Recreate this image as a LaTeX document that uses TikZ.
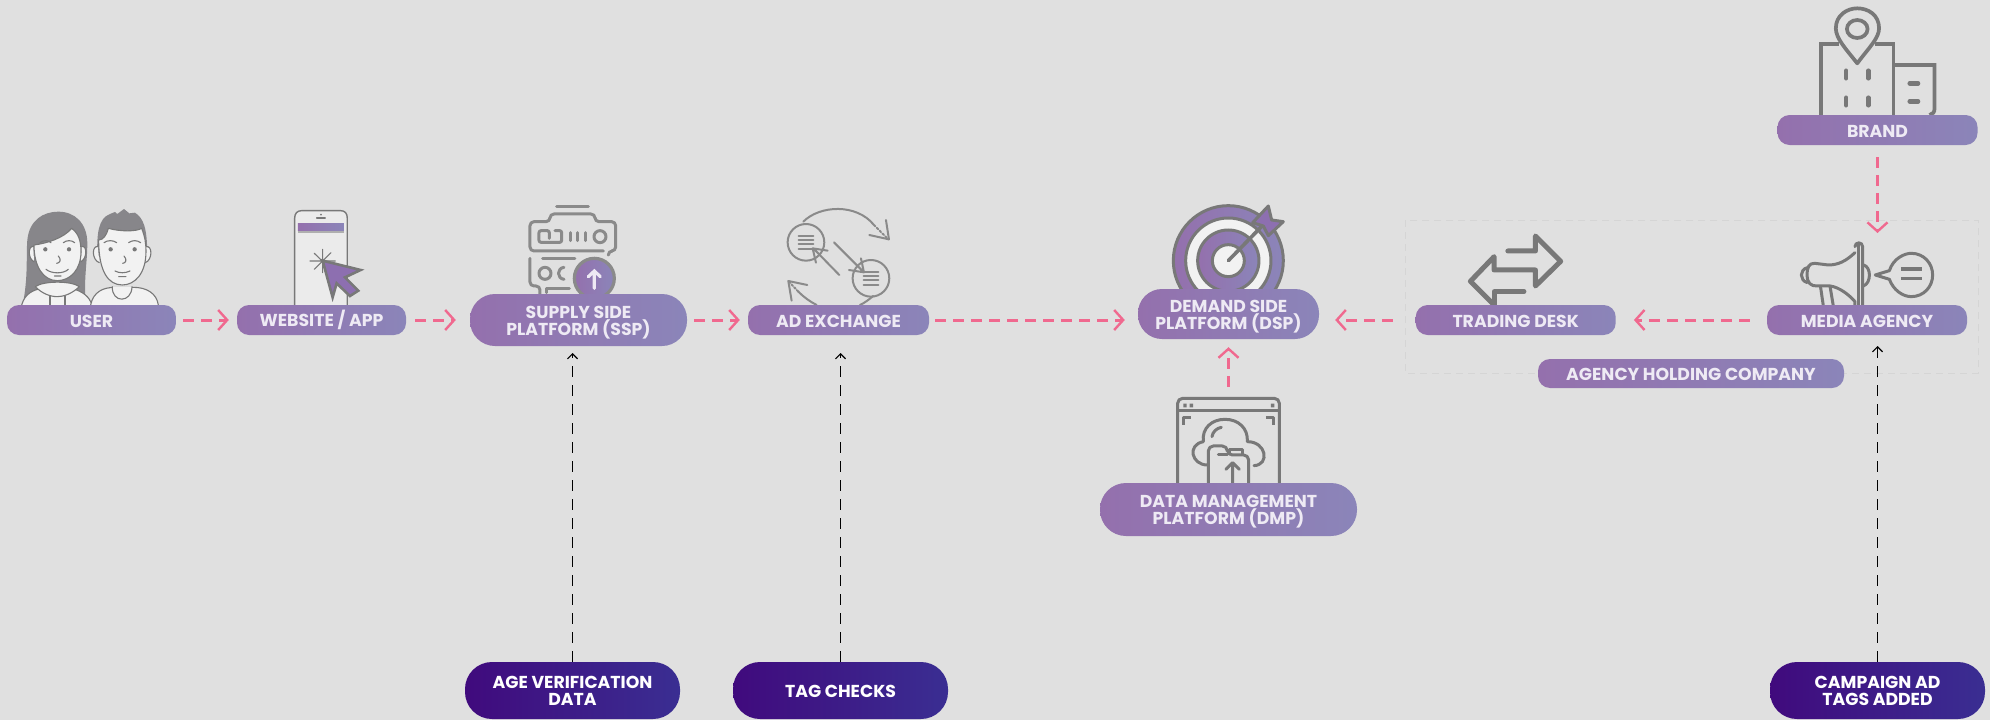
\documentclass[tikz,border=0pt]{standalone}
\usepackage{fontspec}
\setmainfont{Poppins}
\usetikzlibrary{arrows.meta}
\definecolor{bgc}{HTML}{E0E0E0}
\definecolor{pa}{HTML}{9470AD}
\definecolor{pb}{HTML}{8B85B9}
\definecolor{da}{HTML}{400A7D}
\definecolor{db}{HTML}{3A2E92}
\definecolor{pinkc}{HTML}{F0698F}
\definecolor{txtc}{HTML}{EEEAF4}
\definecolor{icong}{HTML}{787878}
\definecolor{lightg}{HTML}{8A8A8A}
\definecolor{hairc}{HTML}{87868A}
\definecolor{skin}{HTML}{F2F2F2}
\definecolor{purp}{HTML}{8D6FB0}
\newcommand\lft[1]{\rule{0pt}{#1pt}}
\tikzset{
 pillbase/.style={draw=none,rounded corners=#1,inner sep=0pt,align=center,font=\fontsize{17.3}{17}\selectfont\bfseries},
 pill/.style={pillbase=#1,left color=pa,right color=pb,text=txtc},
 darkpill/.style={pillbase=27pt,left color=da,right color=db,text=white,minimum width=215pt,minimum height=57pt},
 pinkarrow/.style={draw=pinkc,line width=3pt,dash pattern=on 11pt off 7pt,-{Straight Barb[length=9pt,width=20pt,line width=2.4pt]}},
 blackarrow/.style={draw=black,line width=1.6pt,dash pattern=on 11pt off 8pt,-{Straight Barb[length=5pt,width=10pt,line width=1.2pt]}},
 zoomA/.style={x=0.3333pt,y=-0.3333pt},
 zoomB/.style={x=0.38267pt,y=-0.3333pt},
 gl/.style={draw=icong,line width=3pt,line cap=round,line join=round},
 ll/.style={draw=lightg,line width=2.6pt,line cap=round,line join=round},
 thinl/.style={draw=icong,line width=1.1pt,line cap=round,line join=round},
}
\begin{document}
\begin{tikzpicture}[x=1pt,y=-1pt]
\path[fill=bgc] (0,0) rectangle (1990,720);
\useasboundingbox (0,0) rectangle (1990,720);
% agency box
\draw[draw=black!5!bgc,line width=1pt,dash pattern=on 7pt off 5pt] (1405,220) rectangle (1978,373);
%%% user icon
\begin{scope}[shift={(0,190)},zoomA]
 \fill[hairc] (68,345) .. controls (85,260) and (78,200) .. (82,150) .. controls (88,90) and (130,65) .. (175,65) .. controls (225,65) and (262,100) .. (262,160) .. controls (262,220) and (250,270) .. (258,345) -- cycle;
 \draw[thinl,fill=skin] (65,345) .. controls (75,310) and (100,300) .. (125,295) -- (215,295) .. controls (250,305) and (268,320) .. (276,345);
 \draw[thinl,fill=skin] (106,290) .. controls (130,272) and (215,272) .. (238,290) .. controls (215,312) and (190,320) .. (172,320) .. controls (150,320) and (125,310) .. (106,290) -- cycle;
 \draw[thinl] (150,318) -- (150,345) (195,318) -- (195,345);
 \draw[thinl,fill=skin] (100,170) .. controls (85,165) and (82,205) .. (102,215) (245,170) .. controls (262,165) and (262,205) .. (243,215);
 \draw[thinl,fill=skin] (102,165) .. controls (140,160) and (190,145) .. (215,115) .. controls (235,130) and (243,150) .. (243,185) .. controls (243,240) and (210,272) .. (172,272) .. controls (130,272) and (102,230) .. (102,165) -- cycle;
 \fill[icong] (136,178) circle (6.5) (207,178) circle (6.5);
 \draw[thinl] (120,158) .. controls (130,150) and (145,150) .. (153,158) (190,158) .. controls (200,150) and (215,150) .. (224,158) (175,198) .. controls (185,208) and (180,220) .. (170,220) (138,238) .. controls (155,252) and (190,252) .. (205,238) (163,258) -- (183,258);
 \fill[hairc] (292,200) .. controls (290,130) and (295,85) .. (330,72) -- (345,66) -- (352,72) -- (372,57) -- (388,70) -- (405,68) .. controls (430,85) and (442,110) .. (442,200) -- cycle;
 \draw[thinl,fill=skin] (272,345) .. controls (280,305) and (310,292) .. (345,292) -- (400,292) .. controls (440,292) and (470,310) .. (475,345);
 \draw[thinl,fill=skin] (337,290) .. controls (335,340) and (395,340) .. (396,290);
 \draw[thinl,fill=skin] (294,170) .. controls (275,165) and (275,210) .. (298,218) (438,170) .. controls (458,165) and (458,210) .. (436,218);
 \draw[thinl,fill=skin] (296,150) .. controls (310,150) and (320,135) .. (325,115) .. controls (360,125) and (410,125) .. (425,115) .. controls (435,140) and (438,160) .. (438,185) .. controls (438,250) and (405,285) .. (367,285) .. controls (325,285) and (296,245) .. (296,150) -- cycle;
 \fill[icong] (332,178) circle (6.5) (404,178) circle (6.5);
 \draw[thinl] (312,158) .. controls (322,150) and (340,150) .. (350,158) (386,158) .. controls (396,150) and (412,150) .. (422,158) (372,198) .. controls (382,208) and (378,220) .. (368,220) (345,243) .. controls (358,250) and (376,250) .. (390,243) (356,260) -- (378,260);
 % phone
 \draw[thinl,fill=skin!60!bgc,line width=1.4pt] (884,345) -- (884,85) .. controls (884,70) and (892,62) .. (905,62) -- (1022,62) .. controls (1035,62) and (1042,70) .. (1042,85) -- (1042,345);
 \fill[black!22!bgc] (894,98) rectangle (1032,128);
 \shade[left color=pa,right color=pb] (894,100) rectangle (1032,122);
 \draw[thinl] (950,84) -- (976,84);
 \fill[icong] (963,74) circle (3);
 \draw[thinl] (968,178) -- (968,248) (930,213) -- (1006,213) (943,190) -- (993,238) (993,188) -- (943,238);
 \draw[draw=icong,line width=2.6pt,fill=purp,line join=miter] (968,212) -- (1082,240) -- (1035,262) -- (1075,302) -- (1050,318) -- (1010,280) -- (998,322) -- cycle;
\end{scope}
%%% SSP icon
\begin{scope}[shift={(460,190)},zoomA]
 \draw[ll,line width=3pt] (290,48) -- (385,48);
 \draw[ll,line width=3pt,rounded corners=4pt] (430,183) -- (210,183) -- (210,95) -- (270,95) -- (270,72) -- (405,72) -- (405,95) -- (467,95) -- (467,183) -- (445,183) -- (445,195);
 \draw[ll,line width=3pt,rounded corners=2pt] (268,145) -- (268,122) -- (237,122) -- (237,157) -- (305,157) -- (305,122) -- (285,122);
 \draw[ll,line width=3pt] (332,128) -- (332,152) (354,128) -- (354,152) (376,128) -- (376,152);
 \draw[ll,line width=3pt] (420,140) circle (18);
 \draw[ll,line width=3pt] (248,205) -- (345,205);
 \draw[ll,line width=3pt,rounded corners=4pt] (210,205) -- (210,288) -- (240,288) -- (240,315);
 \draw[ll,line width=3pt] (255,250) circle (18);
 \draw[ll,line width=3pt] (312,232) .. controls (290,235) and (290,265) .. (312,268);
 \draw[ll,line width=3pt] (260,308) -- (260,295) -- (328,295);
 \draw[draw=lightg,line width=3.2pt,left color=pa,right color=pb] (403,265) circle (60);
 \draw[draw=txtc,line width=3.2pt,line cap=round] (403,295) -- (403,243) (385,260) -- (403,243) -- (421,260);
 % ad exchange
 \draw[ll,line width=2pt] (1038,157) circle (55);
 \draw[ll,line width=2pt] (1233,265) circle (55);
 \draw[ll,line width=2pt] (1016,137) -- (1060,137) (1016,150) -- (1060,150) (1016,163) -- (1060,163) (1016,176) -- (1060,176);
 \draw[ll,line width=2pt] (1211,245) -- (1255,245) (1211,258) -- (1255,258) (1211,271) -- (1255,271) (1211,284) -- (1255,284);
 \draw[ll,line width=2pt] (1030,95) .. controls (1080,45) and (1190,40) .. (1242,105);
 \draw[ll,line width=2pt,dotted] (1242,105) -- (1285,148);
 \draw[ll,line width=2pt] (1278,90) -- (1287,148) -- (1228,135);
 \draw[ll,line width=2pt] (1240,318) .. controls (1225,330) and (1215,338) .. (1200,345) (1070,345) .. controls (1050,335) and (1030,320) .. (1015,305);
 \draw[ll,line width=2pt,dotted] (1015,305) -- (985,273);
 \draw[ll,line width=2pt] (995,332) -- (985,273) -- (1042,285);
 \draw[ll,line width=2pt] (1138,255) -- (1060,175) (1068,218) -- (1058,175) -- (1103,182);
 \draw[ll,line width=2pt] (1122,157) -- (1210,245) (1203,205) -- (1212,247) -- (1167,240);
\end{scope}
%%% DSP + DMP icons
\begin{scope}[shift={(1090,190)},zoomA]
 \draw[draw=icong,line width=3pt,left color=pa,right color=pb] (415,212) circle (165);
 \draw[draw=icong,line width=3pt,fill=skin] (415,212) circle (128);
 \draw[draw=icong,line width=3pt,left color=pa,right color=pb] (415,212) circle (92);
 \draw[draw=icong,line width=3pt,fill=skin] (415,212) circle (48);
 \draw[gl,line width=3.6pt] (415,212) -- (522,102);
 \draw[draw=icong,line width=3pt,line join=round,fill=purp] (488,98) -- (535,48) -- (545,90) -- (580,95) -- (535,137) -- (520,108) -- cycle;
 % DMP
 \draw[gl,rounded corners=5pt] (263,880) -- (263,625) -- (568,625) -- (568,880);
 \draw[gl] (263,662) -- (568,662);
 \fill[icong] (280,641) rectangle (290,652) (299,641) rectangle (309,652) (543,641) rectangle (553,652);
 \draw[gl,line cap=butt,line width=3pt] (280,704) -- (280,684) -- (302,684) (528,684) -- (550,684) -- (550,704);
 \draw[gl] (352,825) .. controls (305,825) and (290,765) .. (340,755) .. controls (335,715) and (365,688) .. (405,688) .. controls (445,688) and (475,715) .. (472,755) .. controls (530,755) and (540,825) .. (492,827);
 \draw[gl] (366,740) .. controls (368,725) and (380,715) .. (394,712);
 \draw[gl,fill=bgc,rounded corners=5pt] (355,880) -- (355,768) -- (412,768) -- (412,795) -- (476,795) -- (476,880);
 \draw[gl] (412,795) -- (385,795) (420,792) -- (420,780) -- (458,780) -- (458,792);
 \draw[gl] (428,880) -- (428,825) (408,838) -- (428,818) -- (448,838);
\end{scope}
%%% brand, trading, megaphone
\begin{scope}[shift={(1390,0)},zoomB]
 \draw[gl,line width=3.7pt,line cap=butt,line join=miter] (1126,345) -- (1126,133) -- (1172,133) (1268,133) -- (1316,133) -- (1316,345);
 \draw[gl,line width=3.7pt,line cap=butt,line join=miter] (1318,195) -- (1423,195) -- (1423,325) .. controls (1423,338) and (1418,342) .. (1410,345);
 \draw[draw=icong,line width=3.7pt,line join=round,fill=bgc] (1221,190) .. controls (1190,145) and (1165,115) .. (1165,85) .. controls (1165,45) and (1195,25) .. (1221,25) .. controls (1250,25) and (1278,45) .. (1278,85) .. controls (1278,115) and (1250,145) .. (1221,190) -- cycle;
 \draw[draw=icong,line width=3.7pt] (1221,87) circle (27);
 \draw[gl,line width=4.4pt] (1192,212) -- (1192,235) (1250,212) -- (1250,235) (1192,293) -- (1192,316) (1250,293) -- (1250,316) (1358,250) -- (1380,250) (1358,304) -- (1380,304);
 % trading desk
 \draw[gl,line width=5pt] (308,753) -- (380,753) -- (380,708) -- (446,784) -- (380,858) -- (380,810) -- (272,810) -- (272,770) -- (210,844) -- (272,915);
 \draw[gl,line width=5pt] (350,875) -- (272,875) -- (272,915);
 % megaphone
 \draw[gl,line width=3pt] (1225,733) -- (1225,915);
 \draw[gl,line width=3pt] (1215,740) .. controls (1215,725) and (1235,725) .. (1235,740) -- (1235,915);
 \draw[gl,line width=3pt] (1215,758) .. controls (1190,785) and (1170,795) .. (1145,795) -- (1110,790) .. controls (1095,790) and (1090,800) .. (1090,825) .. controls (1090,850) and (1100,858) .. (1115,858) -- (1150,858) .. controls (1175,862) and (1200,885) .. (1215,905) -- (1215,915);
 \draw[gl,line width=3pt] (1090,803) .. controls (1070,810) and (1070,840) .. (1090,848);
 \draw[gl,line width=3pt] (1237,795) .. controls (1258,800) and (1258,850) .. (1237,858);
 \draw[gl,line width=3pt] (1125,860) -- (1132,915) (1150,860) -- (1158,915);
 \draw[gl,line width=3pt] (1268,825) -- (1305,812) .. controls (1315,775) and (1345,760) .. (1362,760) .. controls (1395,760) and (1418,790) .. (1418,825) .. controls (1418,860) and (1395,890) .. (1362,890) .. controls (1340,890) and (1315,870) .. (1305,838) -- cycle;
 \draw[gl,line width=3.6pt,line cap=butt] (1335,807) -- (1390,807) (1335,836) -- (1390,836);
\end{scope}
%%% pills
\node[pill=12pt,minimum width=169pt,minimum height=30pt] (user) at (91.5,320) {\lft{15}USER};
\node[pill=12pt,minimum width=169pt,minimum height=30pt] (web) at (321.5,320) {\lft{15}WEBSITE / APP};
\node[pill=25pt,minimum width=217pt,minimum height=52pt] (ssp) at (578.5,320) {\lft{18}SUPPLY SIDE\\PLATFORM (SSP)};
\node[pill=12pt,minimum width=181pt,minimum height=30pt] (adx) at (838.5,320) {\lft{15}AD EXCHANGE};
\node[pill=24pt,minimum width=181pt,minimum height=50pt] (dsp) at (1228.5,314) {\lft{17}DEMAND SIDE\\PLATFORM (DSP)};
\node[pill=26pt,minimum width=257pt,minimum height=53pt] (dmp) at (1228.5,509.5) {\lft{17}DATA MANAGEMENT\\PLATFORM (DMP)};
\node[pill=12pt,minimum width=200pt,minimum height=30pt] (brand) at (1877.5,130) {\lft{15}BRAND};
\node[pill=12pt,minimum width=200pt,minimum height=30pt] (trading) at (1515.7,320) {\lft{15}TRADING DESK};
\node[pill=12pt,minimum width=200pt,minimum height=30pt] (media) at (1867,320) {\lft{15}MEDIA AGENCY};
\node[pill=12pt,minimum width=306pt,minimum height=29pt] (holding) at (1691,373.5) {\lft{15}AGENCY HOLDING COMPANY};
\node[darkpill] (age) at (572.5,690.5) {AGE VERIFICATION\\DATA};
\node[darkpill] (tag) at (840.5,690.5) {\lft{15}TAG CHECKS};
\node[darkpill] (camp) at (1877.5,690.5) {CAMPAIGN AD\\TAGS ADDED};
%%% connectors
\draw[pinkarrow,shorten <=7pt,shorten >=8pt] (user.east) -- (web.west);
\draw[pinkarrow,shorten <=9pt,shorten >=14pt] (web.east) -- (ssp.west);
\draw[pinkarrow,shorten <=7pt,shorten >=8pt] (ssp.east) -- (adx.west);
\draw[pinkarrow,shorten <=6pt,shorten >=13pt] (adx.east) -- (dsp.west |- adx.east);
\draw[pinkarrow,shorten <=23pt,shorten >=16pt] (trading.west) -- (dsp.east |- trading.west);
\draw[pinkarrow,shorten <=17pt,shorten >=18pt] (media.west) -- (trading.east);
\coordinate (mediain) at (1877.5,233);
\draw[pinkarrow,shorten <=12pt] (brand.south) -- (mediain);
\draw[pinkarrow,shorten <=96pt,shorten >=8pt] (dmp.north) -- (dsp.south);
\coordinate (sspin) at (572.5,353);
\coordinate (adxin) at (840.5,353);
\coordinate (mediaup) at (1877.5,346);
\draw[blackarrow] (age.north) -- (sspin);
\draw[blackarrow] (tag.north) -- (adxin);
\draw[blackarrow] (camp.north) -- (mediaup);
\end{tikzpicture}
\end{document}
